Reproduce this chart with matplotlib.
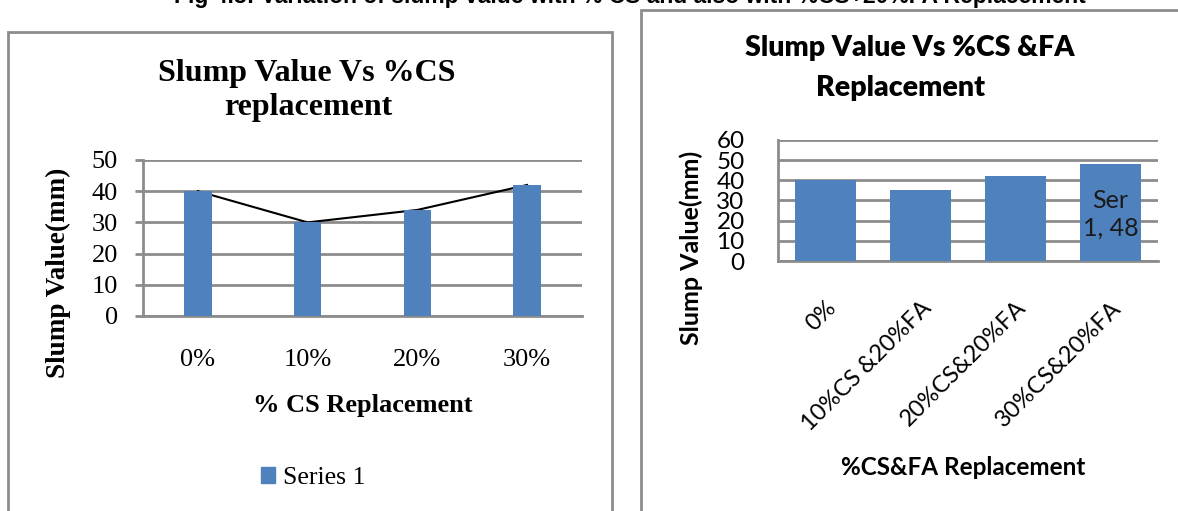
import matplotlib
matplotlib.use("Agg")
import matplotlib.pyplot as plt
from matplotlib.patches import Rectangle, Patch

W, H = 1178, 511

# ---- data ----
left_categories = ["0%", "10%", "20%", "30%"]
left_values = [40, 30, 34, 42]
left_series_name = "Series 1"
left_yticks = [0, 10, 20, 30, 40, 50]

right_categories = ["0%", "10%CS &20%FA", "20%CS&20%FA", "30%CS&20%FA"]
right_values = [40, 35, 42, 48]
right_yticks = [0, 10, 20, 30, 40, 50, 60]

caption = "Fig 4.8: Variation of slump value with % CS and also with %CS+20%FA Replacement"

BLUE = "#4F81BD"
GRID = "#8c8c8c"
BORDER = "#8c8c8c"

fig = plt.figure(figsize=(W / 100, H / 100), dpi=100)
fig.patch.set_facecolor("white")


def box(l, t, r, b):
    return [l / W, 1 - b / H, (r - l) / W, (b - t) / H]


def fx(x):
    return x / W


def fy(y):
    return 1 - y / H


SERIF = ["Liberation Serif", "DejaVu Serif"]
CAL = ["Lato", "DejaVu Sans"]

# panel borders
fig.add_artist(Rectangle((fx(8), fy(530)), fx(612) - fx(8), fy(32) - fy(530),
                         transform=fig.transFigure, fill=False, edgecolor=BORDER, lw=2))
fig.add_artist(Rectangle((fx(641), fy(530)), fx(1200) - fx(641), fy(10) - fy(530),
                         transform=fig.transFigure, fill=False, edgecolor=BORDER, lw=2))

# caption (cut at the top edge as in the reference)
fig.text(fx(630), fy(3), caption, ha="center", va="baseline", fontsize=16.5,
         fontweight="bold", family=["Liberation Sans", "DejaVu Sans"])

# ---------------- left chart ----------------
ax1 = fig.add_axes(box(143, 160, 582, 316))
x1 = list(range(len(left_categories)))
ax1.plot(x1, left_values, color="black", lw=1.5, zorder=2)
ax1.bar(x1, left_values, width=0.25, color=BLUE, zorder=3)
ax1.set_xlim(-0.5, 3.5)
ax1.set_ylim(0, 50)
ax1.set_yticks(left_yticks)
ax1.yaxis.grid(True, color=GRID, lw=2)
ax1.set_axisbelow(True)
for s in ["top", "right"]:
    ax1.spines[s].set_visible(False)
for s in ["left", "bottom"]:
    ax1.spines[s].set_color(GRID)
    ax1.spines[s].set_linewidth(2)
ax1.tick_params(axis="y", length=6, width=2, color=GRID, pad=12, labelsize=19)
ax1.tick_params(axis="x", length=0, pad=24, labelsize=19)
ax1.set_xticks(x1)
ax1.set_xticklabels(left_categories)
for lab in ax1.get_xticklabels() + ax1.get_yticklabels():
    lab.set_family(SERIF)
fig.text(fx(307), fy(73), "Slump Value Vs %CS", ha="center", va="center",
         fontsize=23, fontweight="bold", family=SERIF)
fig.text(fx(308), fy(108), "replacement", ha="center", va="center",
         fontsize=23, fontweight="bold", family=SERIF)
fig.text(fx(58), fy(273), "Slump Value(mm)", ha="center", va="center", rotation=90,
         fontsize=19.5, fontweight="bold", family=SERIF)
fig.text(fx(363), fy(405), "% CS Replacement", ha="center", va="center",
         fontsize=19, fontweight="bold", family=SERIF)
fig.legend(handles=[Patch(color=BLUE, label=left_series_name)],
           loc="center", bbox_to_anchor=(fx(313), fy(478)), frameon=False,
           prop={"family": SERIF, "size": 18.5}, handlelength=0.55, handleheight=0.55,
           handletextpad=0.3)

# ---------------- right chart ----------------
ax2 = fig.add_axes(box(778, 140, 1158, 261))
x2 = list(range(len(right_categories)))
ax2.bar(x2, right_values, width=0.64, color=BLUE, zorder=3)
ax2.set_xlim(-0.5, 3.5)
ax2.set_ylim(0, 60)
ax2.set_yticks(right_yticks)
ax2.yaxis.grid(True, color=GRID, lw=2)
ax2.set_axisbelow(True)
for s in ["top", "right"]:
    ax2.spines[s].set_visible(False)
for s in ["left", "bottom"]:
    ax2.spines[s].set_color(GRID)
    ax2.spines[s].set_linewidth(2)
ax2.tick_params(axis="y", length=0, pad=24, labelsize=17.5)
ax2.tick_params(axis="x", length=0, pad=26, labelsize=17)
ax2.set_xticks(x2)
ax2.set_xticklabels(right_categories, rotation=45, ha="right", rotation_mode="anchor")
for lab in ax2.get_xticklabels() + ax2.get_yticklabels():
    lab.set_family(CAL)
ax2.text(3, 23.3, "Ser\n1, " + str(right_values[3]), ha="center",
         va="center", fontsize=18, color="#1a1a1a", family=CAL, zorder=4, linespacing=1.25)
fig.text(fx(910), fy(48), "Slump Value Vs %CS &FA", ha="center", va="center",
         fontsize=20.5, fontweight="heavy", family=CAL)
fig.text(fx(900), fy(88), "Replacement", ha="center", va="center",
         fontsize=20.5, fontweight="heavy", family=CAL)
fig.text(fx(691), fy(248), "Slump Value(mm)", ha="center", va="center", rotation=90,
         fontsize=18, fontweight="bold", family=CAL)
fig.text(fx(963), fy(467), "%CS&FA Replacement", ha="center", va="center",
         fontsize=17.5, fontweight="bold", family=CAL)

fig.savefig("out.png", dpi=100)
